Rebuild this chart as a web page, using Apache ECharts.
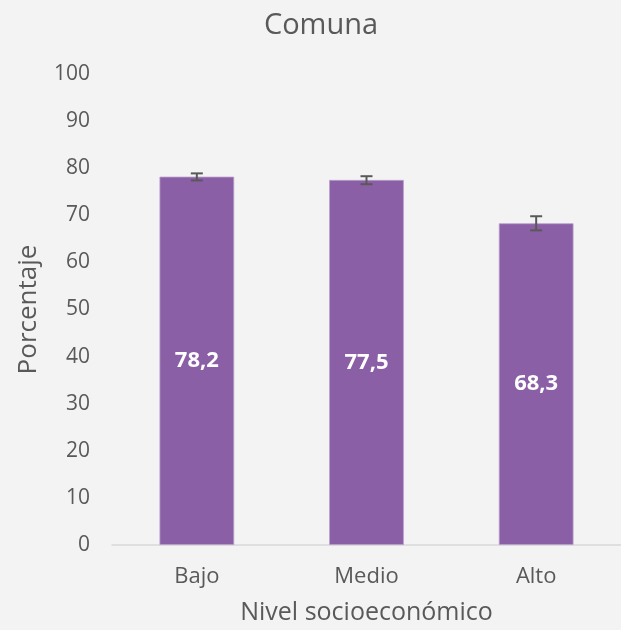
<!DOCTYPE html>
<html>
<head>
<meta charset="utf-8">
<script src="https://cdn.jsdelivr.net/npm/echarts@6/dist/echarts.min.js"></script>
<style>
  html, body { margin: 0; padding: 0; background: #f3f3f3; }
  #chart-wrapper { width: 621px; height: 630px; }
</style>
</head>
<body>
<div id="chart-wrapper"></div>
<script>
const categories = ["Bajo", "Medio", "Alto"];
const values = [78.2, 77.5, 68.3];
const errLow = [77.4, 76.6, 66.8];
const errHigh = [78.9, 78.3, 69.8];

const FONT = "Open Sans";
const TEXT = "#595959";

const chartDom = document.getElementById("chart-wrapper");
const chart = echarts.init(chartDom);

const errData = categories.map((c, i) => [i, errLow[i], errHigh[i]]);

const option = {
  backgroundColor: "#f3f3f3",
  animation: false,
  title: {
    text: "Comuna",
    left: 316,
    textAlign: "center",
    top: 6,
    textStyle: { fontFamily: FONT, fontSize: 29, fontWeight: "normal", color: TEXT },
  },
  grid: { left: 112, top: 74, width: 515, height: 472 },
  xAxis: {
    type: "category",
    data: categories,
    name: "Nivel socioeconómico",
    nameLocation: "middle",
    nameGap: 55,
    nameTextStyle: { fontFamily: FONT, fontSize: 25, color: TEXT },
    axisLine: { lineStyle: { color: "#d9d9d9", width: 1.5 } },
    axisTick: { show: false },
    axisLabel: { fontFamily: FONT, fontSize: 22, color: TEXT, margin: 21 },
  },
  yAxis: {
    type: "value",
    min: 0,
    max: 100,
    interval: 10,
    name: "Porcentaje",
    nameLocation: "middle",
    nameGap: 70,
    nameTextStyle: { fontFamily: FONT, fontSize: 26, color: TEXT },
    axisLine: { show: false },
    axisTick: { show: false },
    splitLine: { show: false },
    axisLabel: { fontFamily: FONT, fontSize: 21, color: TEXT, margin: 22 },
  },
  series: [
    {
      type: "bar",
      data: values,
      barWidth: "44%",
      itemStyle: { color: "#8b5fa5", borderColor: "#b89ccb", borderWidth: 0.8 },
      label: {
        show: true,
        position: "inside",
        color: "#ffffff",
        fontFamily: FONT,
        fontWeight: "bold",
        fontSize: 22,
        formatter: (p) => p.value.toFixed(1).replace(".", ","),
      },
    },
    {
      type: "custom",
      data: errData,
      z: 10,
      renderItem: (params, api) => {
        const x = api.value(0);
        const lo = api.coord([x, api.value(1)]);
        const hi = api.coord([x, api.value(2)]);
        const half = 6;
        const style = { stroke: "#595959", lineWidth: 2 };
        return {
          type: "group",
          children: [
            { type: "line", shape: { x1: lo[0], y1: lo[1], x2: hi[0], y2: hi[1] }, style },
            { type: "line", shape: { x1: lo[0] - half, y1: lo[1], x2: lo[0] + half, y2: lo[1] }, style },
            { type: "line", shape: { x1: hi[0] - half, y1: hi[1], x2: hi[0] + half, y2: hi[1] }, style },
          ],
        };
      },
    },
  ],
};

chart.setOption(option);
</script>
</body>
</html>
